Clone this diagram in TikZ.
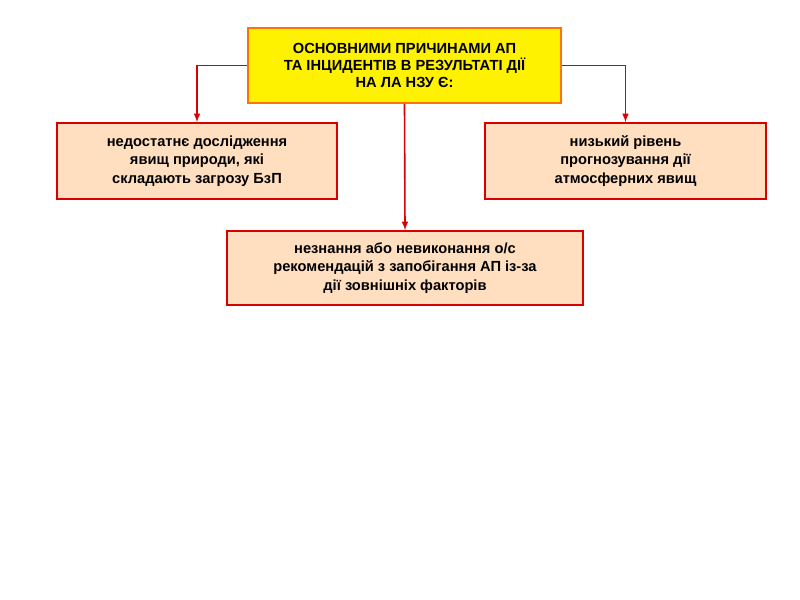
\documentclass[tikz,border=0pt]{standalone}
\usepackage{fontspec}
\setmainfont{Liberation Sans}
\begin{document}
\begin{tikzpicture}[x=0.75pt,y=-0.75pt,
  topbox/.style={draw=orange!90!red,line width=1.2pt,fill=yellow,font=\bfseries\fontsize{11}{13}\selectfont,align=center,inner sep=0pt},
  subbox/.style={draw=red!85!black,line width=1.2pt,fill=orange!25!white,font=\bfseries\fontsize{11}{14}\selectfont,align=center,inner sep=0pt},
  conn/.style={draw=red!85!black,line width=1.2pt,-latex}]
\useasboundingbox (0,0) rectangle (800,600);
\node[topbox,minimum width=313*0.75pt,minimum height=75*0.75pt] (t) at (404.5,65.5) {ОСНОВНИМИ ПРИЧИНАМИ АП\\ТА ІНЦИДЕНТІВ В РЕЗУЛЬТАТІ ДІЇ\\НА ЛА НЗУ Є:};
\node[subbox,minimum width=280*0.75pt,minimum height=76*0.75pt] (l) at (197,161) {недостатнє дослідження\\явищ природи, які\\складають загрозу БзП};
\node[subbox,minimum width=281*0.75pt,minimum height=76*0.75pt] (r) at (625.5,161) {низький рівень\\прогнозування дії\\атмосферних явищ};
\node[subbox,minimum width=356*0.75pt,minimum height=74*0.75pt] (m) at (405,268) {незнання або невиконання о/с\\рекомендацій з запобігання АП із-за\\дії зовнішніх факторів};
\draw[conn] (t.west) -| (l.north);
\draw[conn] (t.east) -| (r.north);
\draw[conn] (t.south) -- (m.north);
\end{tikzpicture}
\end{document}
